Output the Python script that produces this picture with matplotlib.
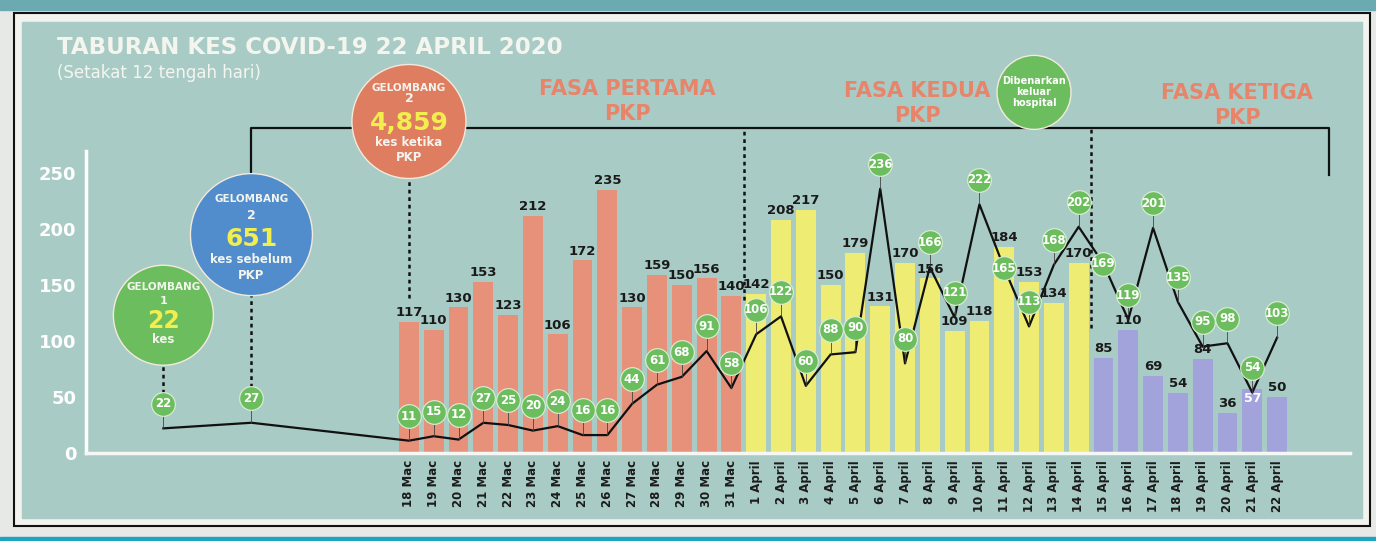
import numpy as np
import matplotlib.pyplot as plt
from matplotlib.patches import Circle, Rectangle

# ---------------- data ----------------
tarikh = [f"{d} Mac" for d in range(18, 32)] + [f"{d} April" for d in range(1, 23)]

kes_baharu = [117, 110, 130, 153, 123, 212, 106, 172, 235, 130, 159, 150, 156, 140,
              142, 208, 217, 150, 179, 131, 170, 156, 109, 118, 184, 153, 134, 170,
              85, 110, 69, 54, 84, 36, 57, 50]

keluar_hospital = [11, 15, 12, 27, 25, 20, 24, 16, 16, 44, 61, 68, 91, 58,
                   106, 122, 60, 88, 90, 236, 80, 166, 121, 222, 165, 113, 168, 202,
                   169, 119, 201, 135, 95, 98, 54, 103]

# sebelum PKP (gelombang 1 dan 2), diletak di kiri paksi tarikh
pra_pkp_x = [-9.9, -6.35]
pra_pkp_keluar = [22, 27]

fasa_bil = [14, 14, 8]
fasa_warna = ['#e8917a', '#eeec72', '#a3a3dc']
fasa_nama = ['FASA PERTAMA\nPKP', 'FASA KEDUA\nPKP', 'FASA KETIGA\nPKP']

HIJAU = '#6cbd5e'
W, H = 1376, 541

def Y(py):
    return H - py

fig = plt.figure(figsize=(W / 100, H / 100), dpi=100)
fig.patch.set_facecolor('#e6e9e6')

# ---------------- latar ----------------
bg = fig.add_axes([0, 0, 1, 1])
bg.set_xlim(0, W)
bg.set_ylim(0, H)
bg.axis('off')
bg.set_zorder(0)
bg.add_patch(Rectangle((0, Y(10)), W, 10, color='#6aaab0'))
bg.add_patch(Rectangle((0, 0), W, Y(537), color='#1fa3c2'))
bg.add_patch(Rectangle((14, Y(526)), 1356, 513, facecolor='#f2f2ee', edgecolor='#111', lw=1.5))
bg.add_patch(Rectangle((22, Y(518)), 1340, 496, color='#a9cbc5'))
grad = np.linspace(1, 0, 256).reshape(1, -1)
bg.imshow(grad, extent=(22, 760, Y(92), Y(34)), cmap='Greys', alpha=0.22, aspect='auto', vmin=-0.3, vmax=1.6)
bg.imshow(grad.T[::-1] * 0 + 0.55, extent=(22, 84, Y(462), Y(150)), cmap='Greys', alpha=0.18, aspect='auto', vmin=0, vmax=1)

# ---------------- carta utama ----------------
ax = fig.add_axes([86 / W, Y(453) / H, (1350 - 86) / W, (453 - 30) / H])
ax.set_zorder(1)
ax.patch.set_alpha(0)
ax.set_xlim(-13.02, 37.94)
ax.set_ylim(0, 377.7)

x = np.arange(len(kes_baharu))
warna = sum([[c] * n for c, n in zip(fasa_warna, fasa_bil)], [])
ax.bar(x, kes_baharu, width=0.8, color=warna, zorder=2)

for i, v in enumerate(kes_baharu):
    if tarikh[i] == '21 April':
        ax.annotate(str(v), (i, v), xytext=(0, -2), textcoords='offset points',
                    ha='center', va='top', fontsize=9, weight='bold', color='white', zorder=5)
    else:
        ax.annotate(str(v), (i, v), xytext=(0, 2), textcoords='offset points',
                    ha='center', va='bottom', fontsize=9.5, weight='bold', color='#1a1a1a', zorder=5)

# garis keluar hospital
lx = np.array(pra_pkp_x + list(x))
ly = np.array(pra_pkp_keluar + keluar_hospital)
off = np.full(len(ly), 22)
# bulatan yang duduk terus di atas garis (seperti grafik asal)
for t in ['11 April', '15 April']:
    off[len(pra_pkp_x) + tarikh.index(t)] = 0
ax.plot(lx, ly, color='#111', lw=1.6, zorder=4)
ax.vlines(lx, ly, ly + np.maximum(off - 8, 0), color='#444', lw=0.6, zorder=4)
ax.scatter(lx, ly + off, s=290, color=HIJAU, edgecolor='#dcefd6', lw=0.8, zorder=6)
for xi, yi, oi in zip(lx, ly, off):
    ax.text(xi, yi + oi, str(yi), ha='center', va='center', fontsize=8.5,
            weight='bold', color='white', zorder=7)

# garis putus & kurungan fasa
dot = dict(color='#111', lw=1.8, linestyle=(0, (1.5, 1.5)), zorder=3)
ax.plot([-9.9, -9.9], [54, 79], **dot)
ax.plot([-6.35, -6.35], [59, 141], **dot)
ax.plot([0, 0], [138, 245], **dot)
ax.plot([13.5, 13.5], [137, 290], **dot)
ax.plot([27.5, 27.5], [112, 290], **dot)
ax.plot([-6.35, -6.35, 37.1, 37.1], [250, 290, 290, 248], color='#111', lw=1.6, zorder=3, clip_on=False)

for nama, xp, yp in zip(fasa_nama, [8.8, 20.5, 33.4], [314, 312, 310]):
    ax.text(xp, yp, nama, ha='center', va='center', fontsize=15, weight='bold',
            color='#e8846a', linespacing=1.3)

# paksi
for s in ['top', 'right']:
    ax.spines[s].set_visible(False)
ax.spines['left'].set_color('white')
ax.spines['left'].set_linewidth(2.5)
ax.spines['left'].set_bounds(0, 270)
ax.spines['bottom'].set_color('#f4f7f4')
ax.spines['bottom'].set_linewidth(2.5)
ax.set_yticks([0, 50, 100, 150, 200, 250])
ax.tick_params(axis='y', length=0, pad=7, labelsize=13, labelcolor='white')
ax.set_xticks(x)
ax.set_xticklabels(tarikh, rotation=90, fontsize=8.5, weight='bold', color='#1c1c1c')
ax.tick_params(axis='x', length=0, pad=5)
for lab in ax.get_yticklabels():
    lab.set_fontweight('bold')

# ---------------- bulatan anotasi ----------------
fg = fig.add_axes([0, 0, 1, 1])
fg.set_zorder(2)
fg.patch.set_alpha(0)
fg.set_xlim(0, W)
fg.set_ylim(0, H)
fg.axis('off')

def bulatan(xd, yd, r, warna_b, baris):
    px, py = ax.transData.transform((xd, yd))
    fg.add_patch(Circle((px, py), r, facecolor=warna_b, edgecolor='#f3e9dc', lw=1.0))
    for dy, teks, sz, kol in baris:
        fg.text(px, py - dy, teks, ha='center', va='center', fontsize=sz,
                weight='bold', color=kol)

KUNING = '#f2ee4e'
bulatan(-9.9, 123, 50, HIJAU, [(-28, 'GELOMBANG', 7.5, '#f4f4ee'), (-14, '1', 8, '#f4f4ee'),
                               (6, '22', 17, KUNING), (24, 'kes', 8.5, '#f4f4ee')])
bulatan(-6.35, 195, 61, '#518dcc', [(-36, 'GELOMBANG', 7.5, '#f4f4ee'), (-19, '2', 9, '#f4f4ee'),
                                    (4, '651', 18, KUNING), (25, 'kes sebelum', 8.5, '#f4f4ee'),
                                    (41, 'PKP', 8.5, '#f4f4ee')])
bulatan(0, 296, 57, '#df7d60', [(-33, 'GELOMBANG', 7.5, '#f4f4ee'), (-23, '2', 9, '#f4f4ee'),
                                (2, '4,859', 18, KUNING), (21, 'kes ketika', 8.5, '#f4f4ee'),
                                (36, 'PKP', 8.5, '#f4f4ee')])
bulatan(25.2, 322, 37, HIJAU, [(-11, 'Dibenarkan', 7, 'white'), (0, 'keluar', 7, 'white'),
                               (11, 'hospital', 7, 'white')])

# ---------------- tajuk ----------------
fg.text(57, Y(48), 'TABURAN KES COVID-19 22 APRIL 2020', fontsize=16.5, weight='bold',
        color='#f5f5f0', va='center', ha='left')
fg.text(57, Y(73), '(Setakat 12 tengah hari)', fontsize=12, color='#f5f5f0', va='center', ha='left')

fig.savefig('out.png', dpi=100)
